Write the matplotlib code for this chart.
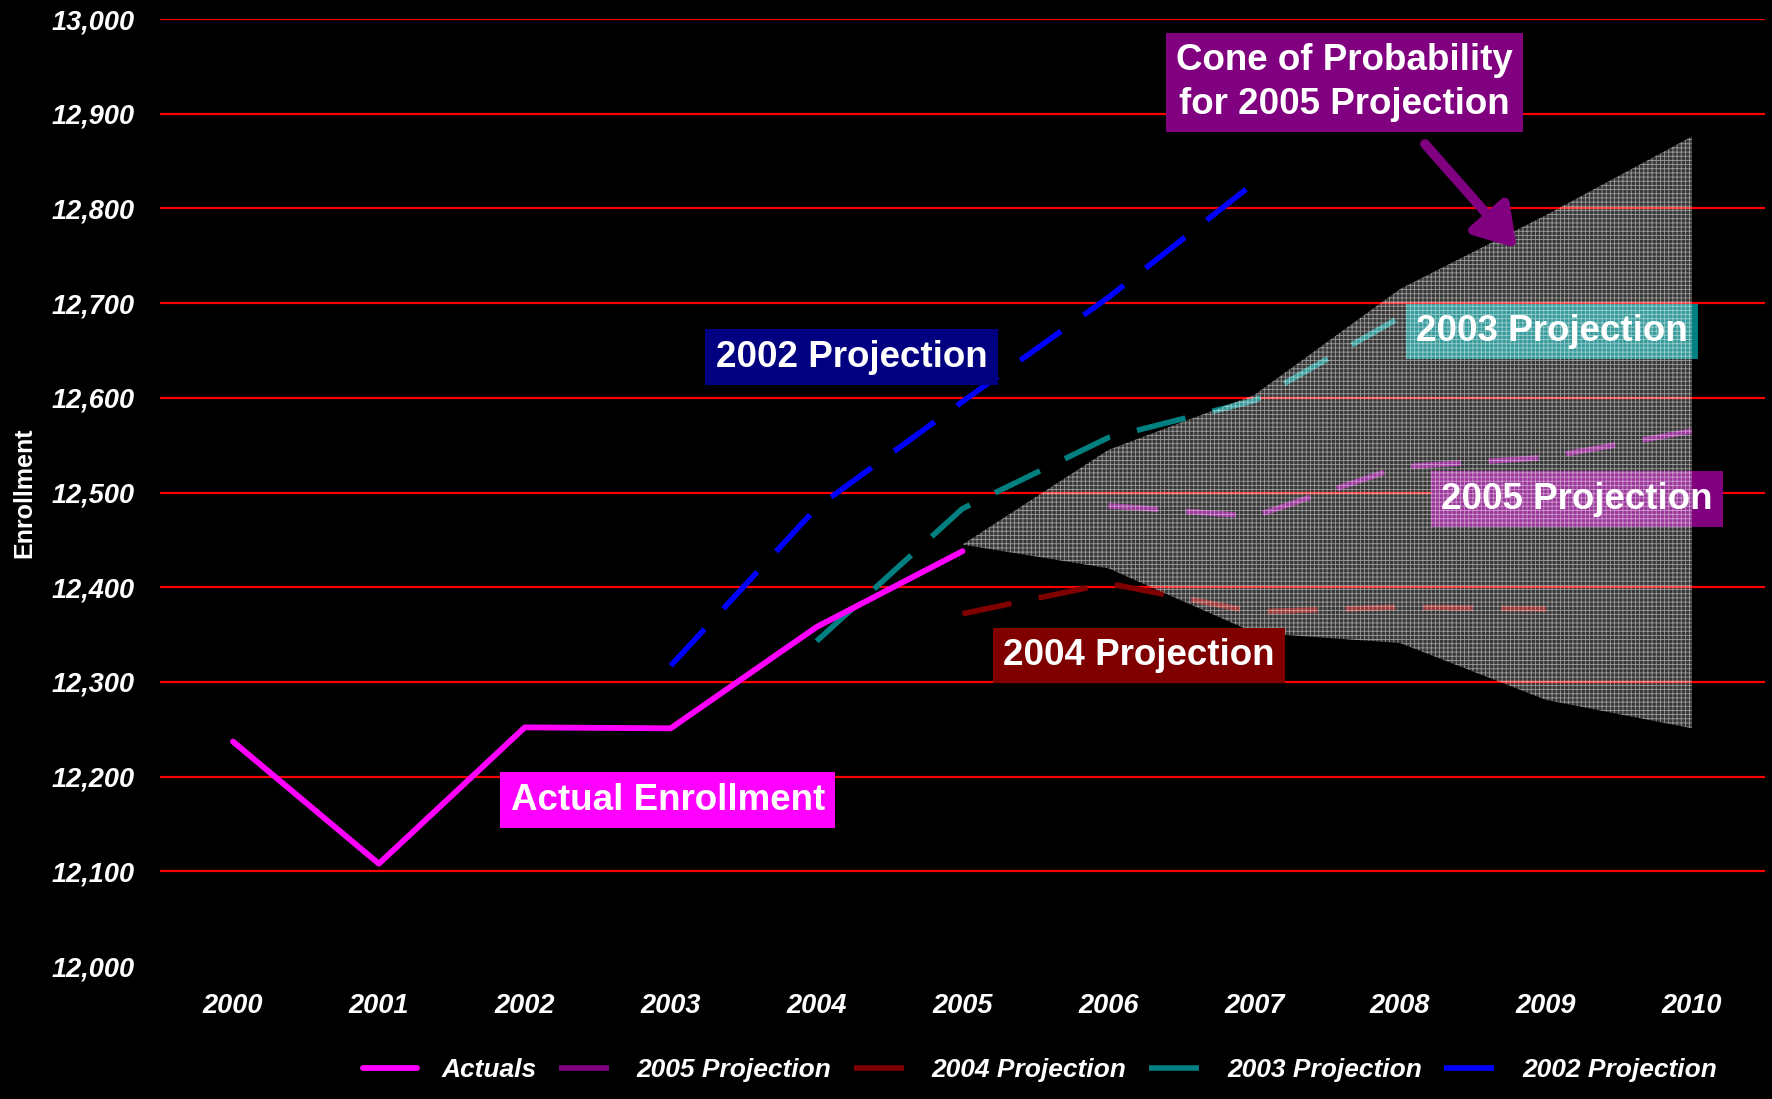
import matplotlib
matplotlib.use('Agg')
import matplotlib.pyplot as plt

plt.rcParams['font.family'] = ['Liberation Sans', 'DejaVu Sans']
plt.rcParams['hatch.linewidth'] = 0.6

years = [2000, 2001, 2002, 2003, 2004, 2005, 2006, 2007, 2008, 2009, 2010]

actual_years = [2000, 2001, 2002, 2003, 2004, 2005]
actuals = [12237, 12108, 12252, 12251, 12358, 12438]

p2002_years = [2003, 2004, 2005, 2006, 2007]
p2002 = [12317, 12484, 12596, 12706, 12827]

p2003_years = [2004, 2005, 2006, 2007, 2008]
p2003 = [12343, 12483, 12558, 12597, 12685]

p2004_years = [2005, 2006, 2007, 2008, 2009]
p2004 = [12372, 12404, 12374, 12379, 12377]

p2005_years = [2006, 2007, 2008, 2009, 2010]
p2005 = [12486, 12475, 12527, 12537, 12565]

cone_years = [2005, 2006, 2007, 2008, 2009, 2010]
cone_top = [12445, 12545, 12603, 12715, 12793, 12876]
cone_bottom = [12445, 12420, 12352, 12341, 12281, 12251]

fig = plt.figure(figsize=(17.72, 10.99), dpi=100, facecolor='black')
ax = fig.add_axes([0.0903, 0.121, 0.9057, 0.8617])
ax.set_facecolor('black')

dash = (9, 5)
ax.plot(actual_years, actuals, color='#FF00FF', lw=4.2, solid_capstyle='round',
        label='Actuals', zorder=3)
ax.plot(p2005_years, p2005, color='#800080', lw=4, dashes=dash, label='2005 Projection', zorder=2)
ax.plot(p2004_years, p2004, color='#800000', lw=4, dashes=dash, label='2004 Projection', zorder=2)
ax.plot(p2003_years, p2003, color='#008080', lw=4, dashes=dash, label='2003 Projection', zorder=2)
ax.plot(p2002_years, p2002, color='#0000FF', lw=4, dashes=dash, label='2002 Projection', zorder=2)

# cone of probability, drawn on top with a see-through grid texture
ax.fill_between(cone_years, cone_bottom, cone_top, facecolor=(1, 1, 1, 0.22),
                edgecolor=(1, 1, 1, 0.5), hatch='++++', linewidth=0, zorder=5)

box_font = dict(color='white', fontsize=26.5, fontweight='bold', ha='center', va='center')
bpad = 'square,pad=0.28'
ax.text(2004.24, 12643, '2002 Projection', zorder=4,
        bbox=dict(boxstyle=bpad, fc='#000080', ec='none'), **box_font)
ax.text(2009.04, 12670, '2003 Projection', zorder=4,
        bbox=dict(boxstyle=bpad, fc='#008080', ec='none'), **box_font)
ax.text(2009.21, 12493, '2005 Projection', zorder=4,
        bbox=dict(boxstyle=bpad, fc='#800080', ec='none'), **box_font)
ax.text(2006.21, 12328, '2004 Projection', zorder=6,
        bbox=dict(boxstyle=bpad, fc='#800000', ec='none'), **box_font)
ax.text(2002.98, 12175, 'Actual Enrollment', zorder=6,
        bbox=dict(boxstyle=bpad, fc='#FF00FF', ec='none'), **box_font)
ax.text(2007.62, 12933, 'Cone of Probability\nfor 2005 Projection', zorder=6,
        linespacing=1.3, bbox=dict(boxstyle=bpad, fc='#800080', ec='none'),
        **box_font)

ax.annotate('', xy=(2008.80, 12758), xytext=(2008.17, 12868), zorder=6,
            arrowprops=dict(arrowstyle='-|>,head_length=0.6,head_width=0.38', lw=7,
                            mutation_scale=40, color='#800080', shrinkA=0, shrinkB=0))

ax.set_xlim(1999.5, 2010.5)
ax.set_ylim(12000, 13000)
ax.set_xticks(years)
ax.set_yticks(range(12000, 13001, 100))
ax.set_yticklabels(['{:,}'.format(v) for v in range(12000, 13001, 100)])
for lab in ax.get_xticklabels() + ax.get_yticklabels():
    lab.set_fontstyle('italic')
    lab.set_fontweight('bold')
ax.tick_params(axis='both', colors='white', labelsize=19.5, length=0)
ax.tick_params(axis='y', pad=18)
ax.tick_params(axis='x', pad=19.5)
for s in ax.spines.values():
    s.set_visible(False)

ax.yaxis.grid(True, color='#FF0000', lw=1.6, zorder=1)
ax.set_axisbelow(True)
ax.get_ygridlines()[0].set_visible(False)

fig.text(0.014, 0.552, 'Enrollment', rotation=90, color='white', fontsize=18,
         fontweight='bold', ha='center', va='center')

leg = ax.legend(loc='center', bbox_to_anchor=(0.587, 0.026), bbox_transform=fig.transFigure,
                ncol=5, frameon=False, handlelength=2.05, handletextpad=0.9,
                columnspacing=0.85, prop=dict(size=19, weight='bold', style='italic'))
for t in leg.get_texts():
    t.set_color('white')

fig.savefig('out.png', dpi=100, facecolor='black')
